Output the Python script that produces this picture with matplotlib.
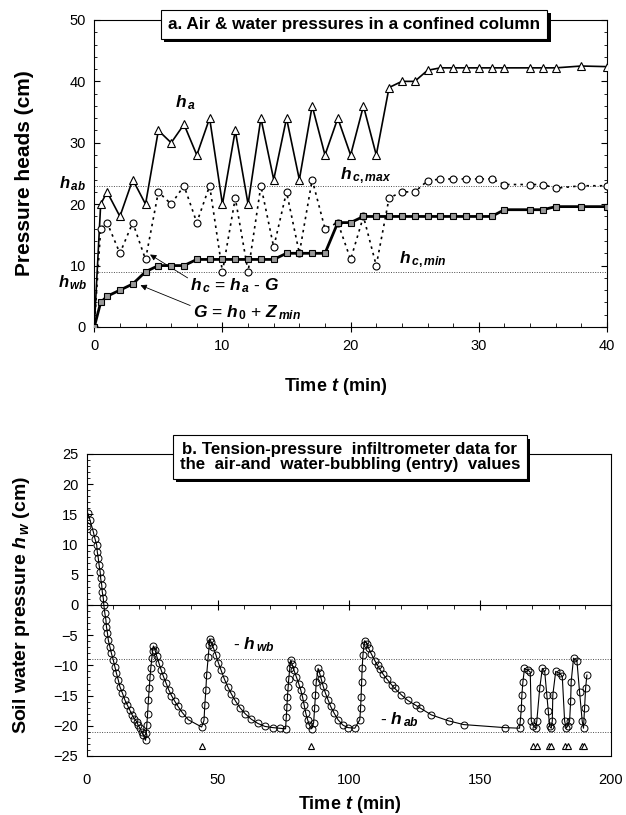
import matplotlib
matplotlib.use("Agg")
import matplotlib.pyplot as plt
import matplotlib.patheffects as pe
from matplotlib.ticker import MultipleLocator

plt.rcParams['font.family'] = ['Liberation Sans', 'DejaVu Sans']
plt.rcParams['mathtext.fontset'] = 'custom'
plt.rcParams['mathtext.rm'] = 'Liberation Sans:bold'
plt.rcParams['mathtext.it'] = 'Liberation Sans:italic:bold'
plt.rcParams['mathtext.bf'] = 'Liberation Sans:bold'

# ---- panel a: confined column ----
t_a = [0, 0.5, 1, 2, 3, 4, 5, 6, 7, 8, 9, 10, 11, 12, 13, 14, 15, 16, 17, 18, 19,
       20, 21, 22, 23, 24, 25, 26, 27, 28, 29, 30, 31, 32, 34, 35, 36, 38, 40]
h_a = [0, 20, 22, 18, 24, 20, 32, 30, 33, 28, 34, 20, 32, 20, 34, 24, 34, 24, 36, 28, 34,
       28, 36, 28, 39, 40, 40, 41.8, 42.2, 42.2, 42.2, 42.2, 42.2, 42.2, 42.2, 42.2, 42.2, 42.5, 42.4]
h_c = [0, 16, 17, 12, 17, 11, 22, 20, 23, 17, 23, 9, 21, 9, 23, 13, 22, 12, 24, 16, 17,
       11, 18, 10, 21, 22, 22, 23.8, 24.1, 24.1, 24.1, 24.1, 24.1, 23.2, 23.2, 23.2, 22.6, 23, 23]
G = [0, 4, 5, 6, 7, 9, 10, 10, 10, 11, 11, 11, 11, 11, 11, 11, 12, 12, 12, 12, 17,
     17, 18, 18, 18, 18, 18, 18, 18, 18, 18, 18, 18, 19.1, 19.1, 19.1, 19.6, 19.6, 19.6]
h_ab_a = 23
h_wb_a = 9

# ---- panel b: tension-pressure infiltrometer ----
t_b = [0, 0.5, 1.3, 2.6, 3.2, 3.9, 4.1, 4.5, 4.8, 5.2, 5.4, 5.8, 6.0, 6.4, 6.6, 7.0, 7.4, 7.6,
       8.0, 8.3, 8.9, 9.5, 10.2, 10.8, 11.4, 12.1, 12.7, 13.7, 14.6, 15.6, 16.5, 17.4, 18.2,
       19.1, 19.7, 20.4, 21.0, 21.6, 22.5,
       22.8, 23.0, 23.3, 23.6, 23.9, 24.2, 24.5, 24.9, 25.2, 25.5,
       26.1, 26.8, 27.6, 28.4, 29.3, 30.3, 31.3, 32.4, 33.6, 34.9, 36.5, 38.8, 43.9,
       44.8, 45.1, 45.5, 45.8, 46.4, 46.8, 47.0,
       47.6, 48.3, 49.3, 50.3, 51.3, 52.5, 53.8, 55.2, 56.8, 58.5, 60.5, 62.8, 65.3, 68.0,
       71.0, 73.6, 75.9,
       76.2, 76.4, 76.6, 76.9, 77.1, 77.5, 77.9,
       78.4, 79.1, 80.0, 80.9, 81.7, 82.4, 83.0, 83.6, 84.3, 85.0, 85.8,
       86.6, 87.0, 87.3, 87.6, 88.3,
       88.9, 89.5, 90.2, 91.1, 92.1, 93.1, 94.4, 95.9, 97.8, 99.7, 102.3,
       104.2, 104.5, 104.7, 104.9, 105.1, 105.4, 105.8, 106.1,
       106.8, 107.6, 108.6, 109.9, 111.0, 111.8, 113.0, 114.4, 116.3, 117.5, 120.1, 122.5,
       125.5, 127.3, 131.5, 138.2, 143.8, 159.4, 165.1,
       165.4, 165.8, 166.0, 166.4, 167.0, 168.3, 169.2, 169.6, 170.4, 171.2, 171.7, 172.8,
       173.8, 174.7, 175.5, 176.0, 176.6, 177.2, 177.6, 177.8, 178.9, 180.4, 181.4, 182.3,
       182.9, 183.5, 184.2, 184.6, 184.8, 185.7, 187.0, 188.0, 189.0, 189.5, 189.9, 190.3, 190.8]
h_w = [13.0, 15.2, 14.1, 12.1, 11.0, 9.9, 8.8, 7.7, 6.6, 5.5, 4.4, 3.3, 2.2, 1.1, 0.0, -1.4,
       -2.5, -3.6, -4.7, -5.8, -6.9, -8.0, -9.1, -10.2, -11.3, -12.4, -13.5, -14.6, -15.7,
       -16.6, -17.4, -18.2, -18.8, -19.3, -19.9, -20.4, -21.0, -21.5, -22.4,
       -21.2, -19.8, -18.0, -15.7, -13.8, -12.0, -10.5, -8.8, -7.6, -6.8,
       -7.4, -8.5, -9.6, -10.7, -11.8, -12.9, -14.0, -15.0, -15.9, -16.8, -17.8, -19.0, -20.2,
       -19.1, -16.6, -14.1, -11.6, -8.6, -6.6, -5.6,
       -6.2, -7.0, -8.2, -9.6, -10.8, -12.2, -13.5, -14.7, -15.9, -17.0, -18.0, -18.9, -19.6,
       -20.1, -20.3, -20.4, -20.5,
       -18.5, -16.9, -15.3, -13.6, -12.3, -10.5, -9.1,
       -9.8, -10.8, -11.9, -13.0, -14.1, -15.3, -16.6, -17.9, -19.0, -19.9, -20.5,
       -19.5, -17.0, -14.9, -12.7, -10.5,
       -11.3, -12.3, -13.4, -14.6, -15.7, -16.8, -17.9, -19.0, -19.9, -20.3, -20.4,
       -19.0, -17.1, -15.2, -12.7, -10.5, -8.3, -6.6, -5.9,
       -6.4, -7.2, -8.1, -9.2, -10.0, -10.6, -11.4, -12.2, -13.2, -13.8, -14.9, -15.8,
       -16.6, -17.1, -18.2, -19.2, -19.8, -20.3, -20.4,
       -19.2, -17.1, -14.9, -12.7, -10.5, -10.8, -11.1, -19.2, -20.0, -20.4, -19.2, -13.8,
       -10.5, -11.0, -14.9, -17.5, -20.1, -20.4, -19.2, -14.9, -11.0, -11.3, -11.8, -19.2,
       -20.4, -20.0, -19.2, -15.9, -12.7, -8.8, -9.3, -14.4, -19.2, -20.4, -17.1, -13.8, -11.6]
t_bubble = [44.0, 85.5, 170.2, 171.6, 176.4, 177.2, 182.6, 183.4, 188.9, 189.6]
y_bubble = [-23.3] * len(t_bubble)
h_wb_b = -9
h_ab_b = -21

fig = plt.figure(figsize=(6.26, 8.15), dpi=100)

# ================= panel a =================
ax1 = fig.add_axes([0.1506, 0.5988, 0.819, 0.3767])
ax1.axhline(h_ab_a, color='0.3', lw=0.7, ls=(0, (1, 1.5)))
ax1.axhline(h_wb_a, color='0.3', lw=0.7, ls=(0, (1, 1.5)))
ax1.plot(t_a, h_a, color='black', lw=1.2, marker='^', ms=5.5, mfc='white', mec='black', mew=0.8, zorder=3)
ax1.plot(t_a, h_c, color='black', lw=1.2, ls=(0, (1.5, 2.5)), marker='o', ms=5, mfc='white',
         mec='black', mew=0.8, zorder=3)
ax1.plot(t_a, G, color='black', lw=2.0, marker='s', ms=4.5, mfc='0.6', mec='black', mew=0.8, zorder=4)

ax1.set_xlim(0, 40)
ax1.set_ylim(0, 50)
ax1.xaxis.set_major_locator(MultipleLocator(10))
ax1.xaxis.set_minor_locator(MultipleLocator(2))
ax1.yaxis.set_major_locator(MultipleLocator(10))
ax1.yaxis.set_minor_locator(MultipleLocator(2))
ax1.tick_params(which='both', top=False, right=True, labelsize=10.5)
ax1.tick_params(axis='x', which='major', direction='inout', length=7, pad=5)
ax1.tick_params(axis='x', which='minor', direction='in', length=3)
ax1.tick_params(axis='y', which='major', direction='in', length=4, pad=6)
ax1.tick_params(axis='y', which='minor', direction='in', length=2)
ax1.set_xlabel('Time $t$ (min)', fontsize=13, fontweight='bold')
ax1.set_ylabel('Pressure heads (cm)', fontsize=15, fontweight='bold')
ax1.xaxis.set_label_coords(0.47, -0.16)
ax1.yaxis.set_label_coords(-0.118, 0.5)

ax1.text(7.1, 36.5, r'$h_{\,a}$', fontsize=12.5, ha='center', va='center')
ax1.text(-1.7, 23.4, r'$h_{\,ab}$', fontsize=12, ha='center', va='center', clip_on=False)
ax1.text(-1.7, 7.3, r'$h_{\,wb}$', fontsize=12, ha='center', va='center', clip_on=False)
ax1.text(19.2, 24.6, r'$h_{\,c,max}$', fontsize=12.5, ha='left', va='center')
ax1.text(23.8, 10.9, r'$h_{\,c,min}$', fontsize=12.5, ha='left', va='center')
ax1.annotate(r'$h_{\,c}$ = $h_{\,a}$ - $G$', xy=(4.35, 11.8), xytext=(7.5, 6.8), fontsize=12.5,
             ha='left', va='center',
             arrowprops=dict(arrowstyle='-|>', color='black', lw=0.6, mutation_scale=9,
                             shrinkA=0, shrinkB=0, relpos=(0, 0.8)))
ax1.annotate(r'$G$ = $h_{\,0}$ + $Z_{\,min}$', xy=(3.6, 6.8), xytext=(7.7, 2.4), fontsize=12.5,
             ha='left', va='center',
             arrowprops=dict(arrowstyle='-|>', color='black', lw=0.6, mutation_scale=9,
                             shrinkA=0, shrinkB=0, relpos=(0, 0.8)))

title_a = ax1.text(0.5066, 0.986, 'a. Air & water pressures in a confined column', transform=ax1.transAxes,
                   fontsize=12.3, fontweight='bold', ha='center', va='center', zorder=10,
                   bbox=dict(boxstyle='square,pad=0.42', fc='white', ec='black', lw=0.8))
title_a.get_bbox_patch().set_path_effects([
    pe.SimplePatchShadow(offset=(2.5, -2.5), shadow_rgbFace='black', alpha=1), pe.Normal()])

# ================= panel b =================
ax2 = fig.add_axes([0.1382, 0.0724, 0.8379, 0.3706])
ax2.axhline(h_wb_b, color='0.3', lw=0.7, ls=(0, (1, 1.5)))
ax2.axhline(h_ab_b, color='0.3', lw=0.7, ls=(0, (1, 1.5)))
ax2.plot(t_b, h_w, color='black', lw=0.8, marker='o', ms=5, mfc='none', mec='black', mew=0.7, zorder=3)
ax2.plot(t_bubble, y_bubble, ls='none', marker='^', ms=4.5, mfc='white', mec='black', mew=0.8, zorder=3)

ax2.set_xlim(0, 200)
ax2.set_ylim(-25, 25)
ax2.xaxis.set_major_locator(MultipleLocator(50))
ax2.yaxis.set_major_locator(MultipleLocator(5))
ax2.yaxis.set_minor_locator(MultipleLocator(1))
ax2.tick_params(axis='x', which='both', bottom=False, top=False, labelsize=10.5, pad=9)
ax2.tick_params(axis='y', which='major', direction='in', length=4, labelsize=10.5, pad=6)
ax2.tick_params(axis='y', which='minor', direction='in', length=2)

zero_axis = ax2.secondary_xaxis(0.5)
zero_axis.xaxis.set_major_locator(MultipleLocator(50))
zero_axis.xaxis.set_minor_locator(MultipleLocator(10))
zero_axis.tick_params(which='major', direction='inout', length=7)
zero_axis.tick_params(which='minor', direction='in', length=3)
zero_axis.tick_params(which='both', labeltop=False, labelbottom=False)
for sp in zero_axis.spines.values():
    sp.set_linewidth(0.8)

ax2.set_xlabel('Time $t$ (min)', fontsize=13, fontweight='bold')
ax2.set_ylabel('Soil water pressure $h_{\\,w}$ (cm)', fontsize=14, fontweight='bold')
ax2.xaxis.set_label_coords(0.502, -0.125)
ax2.yaxis.set_label_coords(-0.104, 0.5)

ax2.text(56, -6.6, r'- $h_{\,wb}$', fontsize=12.5, ha='left', va='center')
ax2.text(112, -19.0, r'- $h_{\,ab}$', fontsize=12.5, ha='left', va='center')

title_b = ax2.text(0.502, 0.99, 'b. Tension-pressure  infiltrometer data for\nthe  air-and  water-bubbling (entry)  values',
                   transform=ax2.transAxes, fontsize=12.2, fontweight='bold', ha='center', va='center',
                   linespacing=1.0, zorder=10,
                   bbox=dict(boxstyle='square,pad=0.4', fc='white', ec='black', lw=0.8))
title_b.get_bbox_patch().set_path_effects([
    pe.SimplePatchShadow(offset=(2.5, -2.5), shadow_rgbFace='black', alpha=1), pe.Normal()])

fig.savefig('out.png', dpi=100)
